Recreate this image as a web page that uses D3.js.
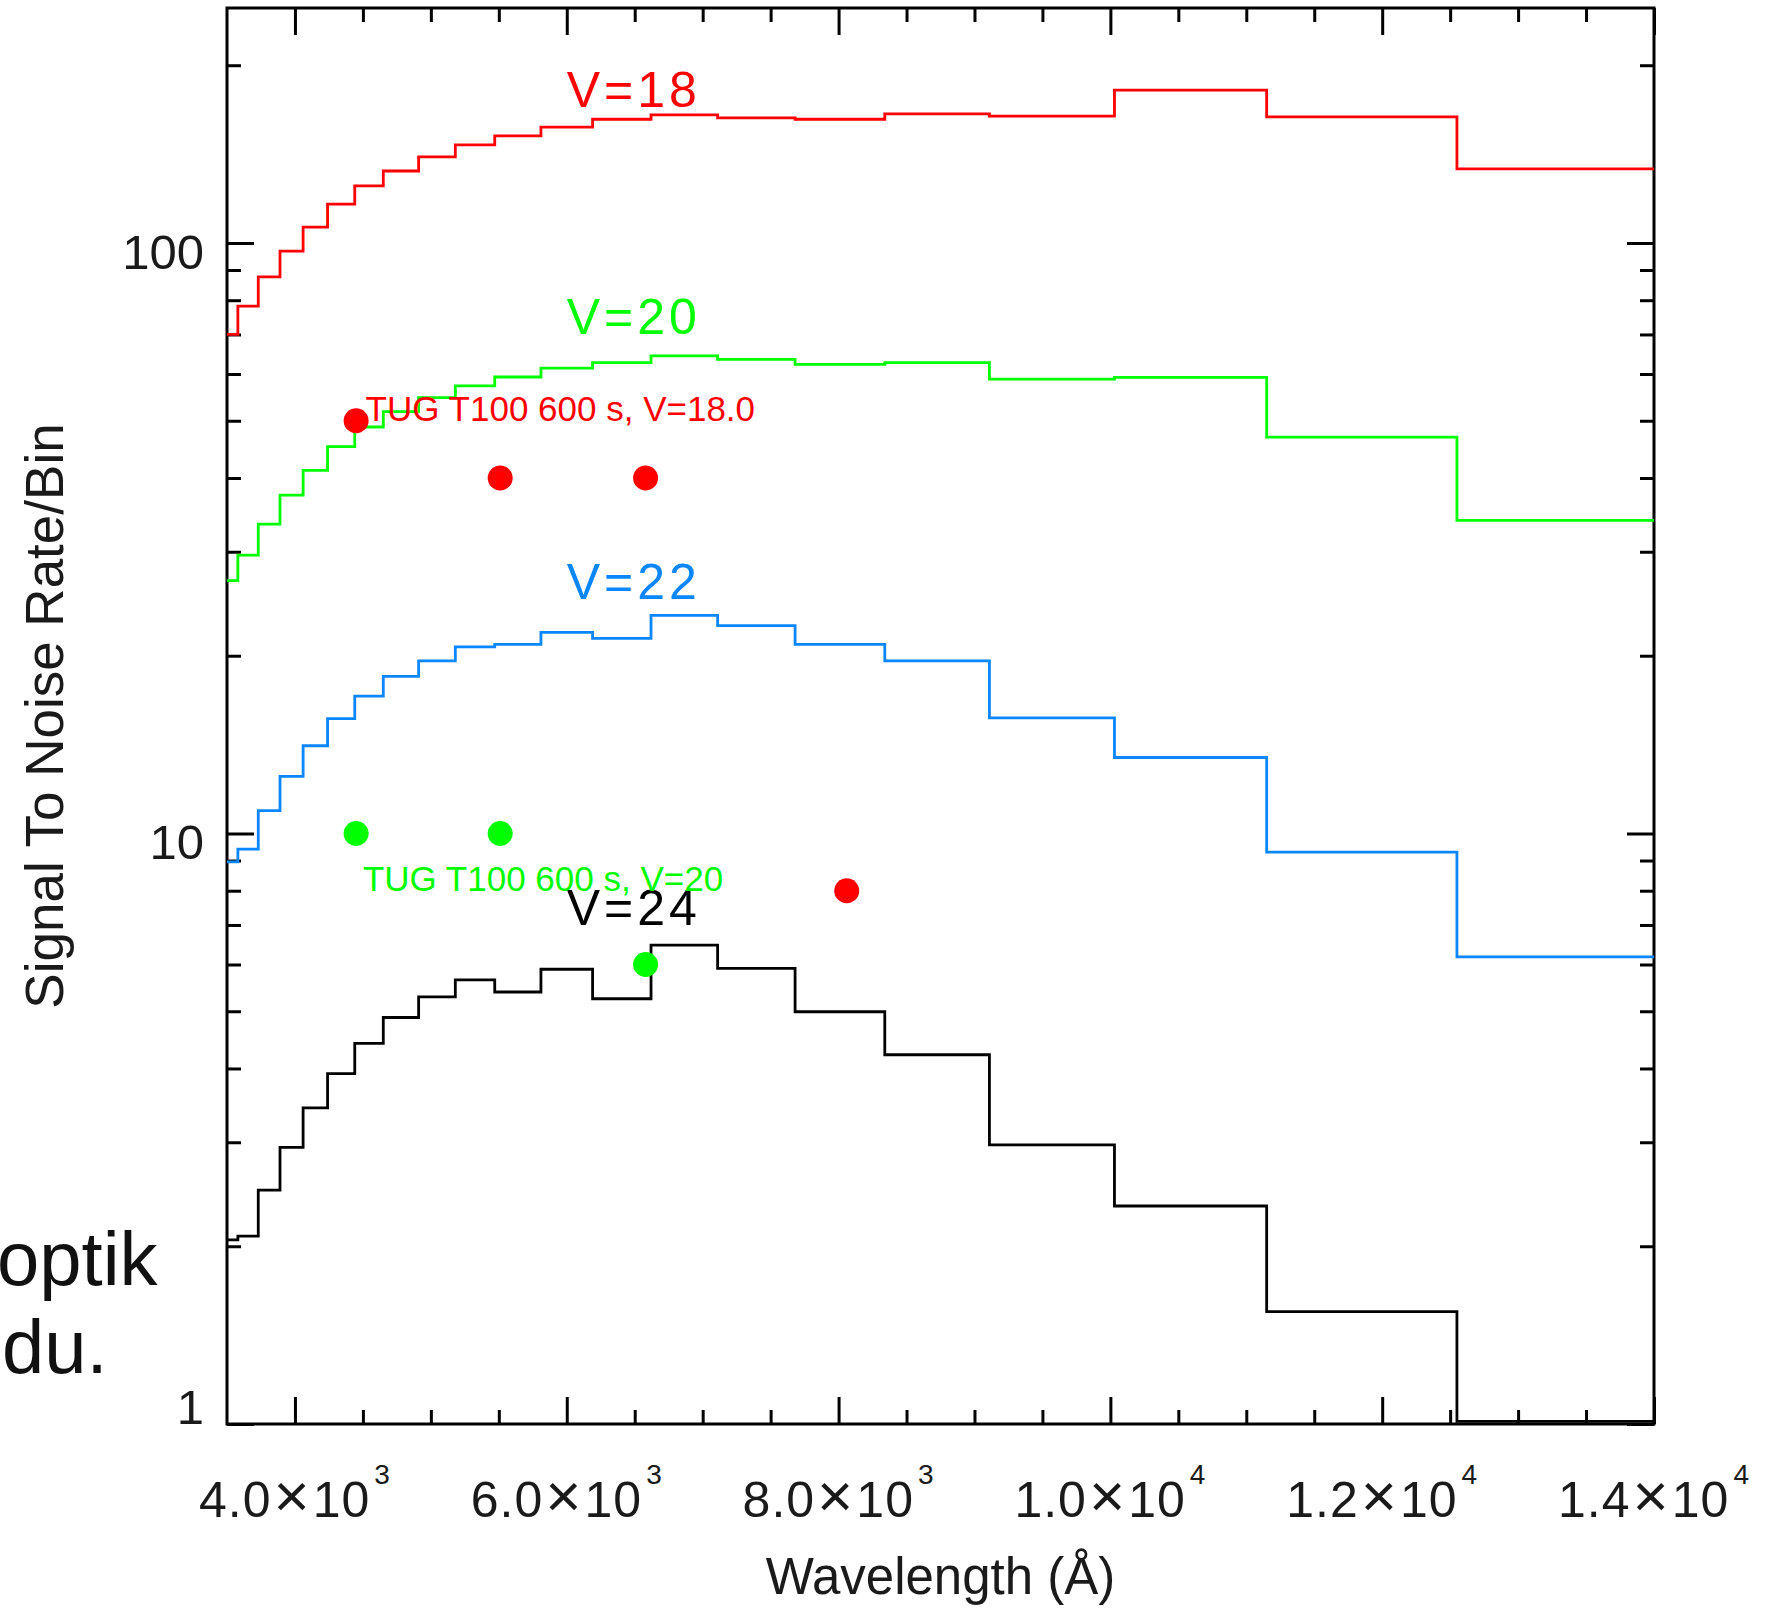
<!DOCTYPE html>
<html>
<head>
<meta charset="utf-8">
<script src="https://cdn.jsdelivr.net/npm/d3@7"></script>
<style>
  body { margin: 0; background: #fff; }
  svg { display: block; font-family: "Liberation Sans", Arial, Helvetica, sans-serif; }
</style>
</head>
<body>
<svg id="chart" width="1790" height="1608"></svg>
<script>
// bin edges (Angstrom), shared by every curve
const binEdges = [3500, 3580, 3730, 3890, 4060, 4240, 4440, 4650, 4910, 5180, 5470, 5810,
    6190, 6620, 7110, 7680, 8340, 9110, 10030, 11150, 12550, 14000];

// signal to noise per bin, one value per bin
const snV18 = [70, 78.2, 87.6, 96.9, 106.4, 116.4, 124.9, 132.4, 139.9, 146.6, 151.8, 157.1,
    162, 164.8, 162.9, 162, 165.5, 164, 181.5, 163.5, 133.5];
const snV20 = [26.8, 29.6, 33.4, 37.4, 41.2, 45.2, 48.8, 51.8, 54.7, 57.3, 59.3, 61.4,
    62.7, 64.4, 63.5, 62.3, 62.7, 58.8, 59.2, 46.9, 33.9];
const snV22 = [8.95, 9.41, 10.93, 12.49, 14.08, 15.65, 17.09, 18.45, 19.6, 20.7, 20.9, 21.9,
    21.4, 23.4, 22.5, 20.9, 19.6, 15.7, 13.45, 9.3, 6.18];
const snV24 = [2.05, 2.08, 2.49, 2.94, 3.43, 3.92, 4.41, 4.88, 5.29, 5.65, 5.39, 5.89,
    5.25, 6.47, 5.91, 4.99, 4.22, 2.97, 2.34, 1.55, 1.01];

const seriesNames = ['V=18', 'V=20', 'V=22', 'V=24'];
const seriesColors = ['#ff0000', '#00ff00', '#0a86ff', '#000000'];
const labelWave = 6000;
const labelSn = [170, 70, 25, 7];

// TUG T100 measured points
const tugV18Wave = [4450, 5510, 6580, 8060];
const tugV18Sn = [50, 40, 40, 8];
const tugV20Wave = [4450, 5510, 6580];
const tugV20Sn = [10, 10, 6];
const tugNotes = ['TUG T100 600 s, V=18.0', 'TUG T100 600 s, V=20'];
const tugNoteWave = [4520, 4500];
const tugNoteSn = [50, 8];

// ticks
const xMajor = [4000, 6000, 8000, 10000, 12000, 14000];
const xMantissa = ['4.0', '6.0', '8.0', '1.0', '1.2', '1.4'];
const xExponent = ['3', '3', '3', '4', '4', '4'];
const xMinor = [4500, 5000, 5500, 6500, 7000, 7500, 8500, 9000, 9500, 10500, 11000, 11500,
    12500, 13000, 13500];
const yMajor = [1, 10, 100];
const yMinor = [2, 3, 4, 5, 6, 7, 8, 9, 20, 30, 40, 50, 60, 70, 80, 90, 200];

const svg = d3.select('#chart');
const plotL = 227, plotR = 1654, plotT = 8, plotB = 1424;

const x = d3.scaleLinear().domain([3500, 14000]).range([plotL, plotR]);
const y = d3.scaleLog().domain([1, 250]).range([plotB, plotT]);

// axes: ticks point into the frame
function tickStyle(sel) {
    sel.select('.domain').remove();
    sel.selectAll('line').attr('stroke', '#000').attr('stroke-width', 3);
}

const axes = svg.append('g');
const sides = [
    { make: d3.axisBottom, t: `translate(0,${plotB})`, scale: x, major: xMajor, minor: xMinor },
    { make: d3.axisTop, t: `translate(0,${plotT})`, scale: x, major: xMajor, minor: xMinor },
    { make: d3.axisLeft, t: `translate(${plotL},0)`, scale: y, major: yMajor, minor: yMinor },
    { make: d3.axisRight, t: `translate(${plotR},0)`, scale: y, major: yMajor, minor: yMinor },
];
sides.forEach((s) => {
    axes.append('g').attr('transform', s.t)
        .call(s.make(s.scale).tickValues(s.major).tickSize(-27).tickSizeOuter(0).tickFormat(''))
        .call(tickStyle);
    axes.append('g').attr('transform', s.t)
        .call(s.make(s.scale).tickValues(s.minor).tickSize(-14).tickSizeOuter(0).tickFormat(''))
        .call(tickStyle);
});

// frame
svg.append('rect')
    .attr('x', plotL).attr('y', plotT)
    .attr('width', plotR - plotL).attr('height', plotB - plotT)
    .attr('fill', 'none').attr('stroke', '#000').attr('stroke-width', 3);

// x tick labels like 4.0x10^3
const xLabels = svg.append('g').attr('font-size', 50).attr('fill', '#1a1a1a');
xMajor.forEach((v, i) => {
    const t = xLabels.append('text')
        .attr('x', x(v)).attr('y', plotB + 93)
        .attr('text-anchor', 'middle')
        .attr('letter-spacing', 1);
    t.append('tspan').text(xMantissa[i]);
    t.append('tspan').attr('font-size', 62).attr('dx', 2).text('\u00d7');
    t.append('tspan').attr('dx', 2).text('10');
    t.append('tspan').attr('dy', -33).attr('font-size', 28).attr('dx', 4).text(xExponent[i]);
});

// y tick labels
svg.append('g').attr('font-size', 49).attr('fill', '#1a1a1a')
    .selectAll('text')
    .data(yMajor)
    .join('text')
    .attr('x', plotL - 23)
    .attr('y', (d) => y(d) + (d === 1 ? 0 : 26))
    .attr('text-anchor', 'end')
    .text((d) => d);

// step curves
const series = [snV18, snV20, snV22, snV24];
const line = d3.line()
    .x((d) => x(d[0]))
    .y((d) => y(d[1]))
    .curve(d3.curveStepAfter);

series.forEach((vals, i) => {
    const pts = binEdges.map((e, j) => [e, vals[Math.min(j, vals.length - 1)]]);
    svg.append('path')
        .datum(pts)
        .attr('d', line)
        .attr('fill', 'none')
        .attr('stroke', seriesColors[i])
        .attr('stroke-width', 2.8);
});

// curve labels
svg.append('g').attr('font-size', 50).attr('letter-spacing', 4)
    .selectAll('text')
    .data(seriesNames)
    .join('text')
    .attr('x', x(labelWave))
    .attr('y', (d, i) => y(labelSn[i]))
    .attr('fill', (d, i) => seriesColors[i])
    .text((d) => d);

// measured points
const dots = svg.append('g');
dots.selectAll('.r').data(tugV18Wave).join('circle').attr('class', 'r')
    .attr('cx', (d) => x(d)).attr('cy', (d, i) => y(tugV18Sn[i]))
    .attr('r', 12.5).attr('fill', seriesColors[0]);
dots.selectAll('.g').data(tugV20Wave).join('circle').attr('class', 'g')
    .attr('cx', (d) => x(d)).attr('cy', (d, i) => y(tugV20Sn[i]))
    .attr('r', 12.5).attr('fill', seriesColors[1]);

svg.append('g').attr('font-size', 35)
    .selectAll('text')
    .data(tugNotes)
    .join('text')
    .attr('x', (d, i) => x(tugNoteWave[i]))
    .attr('y', (d, i) => y(tugNoteSn[i]))
    .attr('fill', (d, i) => seriesColors[i])
    .text((d) => d);

// axis titles
svg.append('text')
    .attr('x', (plotL + plotR) / 2).attr('y', 1594)
    .attr('text-anchor', 'middle').attr('font-size', 51).attr('fill', '#1a1a1a')
    .text('Wavelength (\u00c5)');

svg.append('text')
    .attr('transform', `translate(63,${(plotT + plotB) / 2}) rotate(-90)`)
    .attr('text-anchor', 'middle').attr('font-size', 53).attr('fill', '#1a1a1a')
    .text('Signal To Noise Rate/Bin');

// leftover slide text at the left edge
svg.append('text').attr('x', -3).attr('y', 1285).attr('font-size', 76).attr('fill', '#111').text('optik');
svg.append('text').attr('x', 2).attr('y', 1373).attr('font-size', 76).attr('fill', '#111').text('du.');
</script>
</body>
</html>
